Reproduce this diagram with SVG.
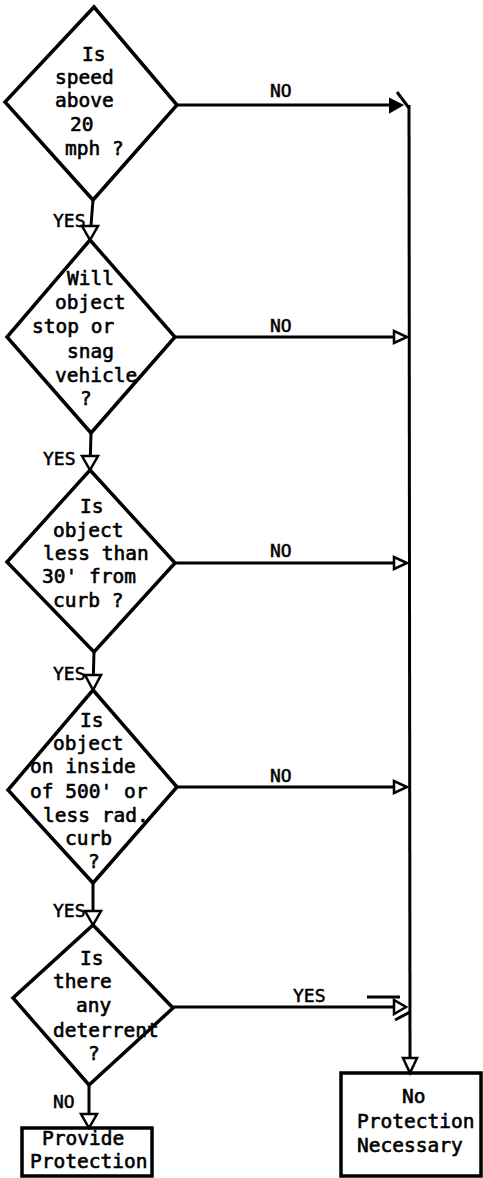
<svg xmlns="http://www.w3.org/2000/svg" width="483" height="1178" viewBox="0 0 483 1178">
<style>
.shape{fill:none;stroke:#000;stroke-width:3.5;stroke-linejoin:miter}
.ln{fill:none;stroke:#000;stroke-width:3}
.ah{fill:#fff;stroke:#000;stroke-width:2.5;stroke-linejoin:miter}
.t{font-family:"DejaVu Sans Mono","Liberation Mono",monospace;font-size:19.5px;fill:#000;stroke:#000;stroke-width:0.6}
.l{font-family:"DejaVu Sans Mono","Liberation Mono",monospace;font-size:18px;fill:#000;stroke:#000;stroke-width:0.5}
</style>
<rect width="483" height="1178" fill="#fff"/>
<g id="connectors">
  <line class="ln" x1="93" y1="200" x2="90" y2="238"/>
  <polygon class="ah" points="82,226 98,226 90,240"/>
  <text class="l" x="53" y="227">YES</text>
  <line class="ln" x1="91" y1="433" x2="90" y2="468"/>
  <polygon class="ah" points="82,456 98,456 90,470"/>
  <text class="l" x="43" y="465">YES</text>
  <line class="ln" x1="94" y1="652" x2="93" y2="688"/>
  <polygon class="ah" points="85,675 101,675 93,690"/>
  <text class="l" x="53" y="680">YES</text>
  <line class="ln" x1="93" y1="883" x2="93" y2="923"/>
  <polygon class="ah" points="85,911 101,911 93,925"/>
  <text class="l" x="53" y="917">YES</text>
  <line class="ln" x1="89" y1="1085" x2="89" y2="1126"/>
  <polygon class="ah" points="81,1114 97,1114 89,1128"/>
  <text class="l" x="53" y="1108">NO</text>
  <line class="ln" x1="177" y1="105" x2="392" y2="105"/>
  <polygon points="390,99 390,112 402,105" fill="#000" stroke="#000" stroke-width="2"/>
  <line class="ln" x1="397" y1="92" x2="409" y2="108"/>
  <text class="l" x="270" y="97">NO</text>
  <line class="ln" x1="175" y1="337" x2="394" y2="337"/>
  <polygon class="ah" points="394,331 394,343 407,337"/>
  <text class="l" x="270" y="332">NO</text>
  <line class="ln" x1="175" y1="563" x2="394" y2="563"/>
  <polygon class="ah" points="394,557 394,569 407,563"/>
  <text class="l" x="270" y="557">NO</text>
  <line class="ln" x1="177" y1="787" x2="394" y2="787"/>
  <polygon class="ah" points="394,781 394,793 407,787"/>
  <text class="l" x="270" y="782">NO</text>
  <line class="ln" x1="173" y1="1007" x2="394" y2="1007"/>
  <polygon class="ah" points="394,1000 394,1014 406,1007"/>
  <line class="ln" x1="367" y1="997" x2="400" y2="997"/>
  <line class="ln" x1="395" y1="1020" x2="410" y2="1012"/>
  <text class="l" x="293" y="1002">YES</text>
  <line class="ln" x1="409" y1="105" x2="410" y2="1058"/>
  <polygon class="ah" points="403,1058 417,1058 410,1073"/>
</g>
<g id="d1">
  <polygon class="shape" points="94,7 177,105 93,200 5,102"/>
  <text class="t" x="82" y="61">Is</text>
  <text class="t" x="55" y="84">speed</text>
  <text class="t" x="55" y="107">above</text>
  <text class="t" x="70" y="131">20</text>
  <text class="t" x="65" y="155">mph ?</text>
</g>
<g id="d2">
  <polygon class="shape" points="90,240 175,337 91,433 7,337"/>
  <text class="t" x="67" y="285">Will</text>
  <text class="t" x="55" y="309">object</text>
  <text class="t" x="32" y="333">stop or</text>
  <text class="t" x="67" y="358">snag</text>
  <text class="t" x="55" y="382">vehicle</text>
  <text class="t" x="80" y="405">?</text>
</g>
<g id="d3">
  <polygon class="shape" points="90,470 175,563 94,652 7,562"/>
  <text class="t" x="80" y="513">Is</text>
  <text class="t" x="53" y="537">object</text>
  <text class="t" x="43" y="560">less than</text>
  <text class="t" x="42" y="583">30' from</text>
  <text class="t" x="53" y="607">curb ?</text>
</g>
<g id="d4">
  <polygon class="shape" points="93,690 177,787 93,883 8,790"/>
  <text class="t" x="80" y="727">Is</text>
  <text class="t" x="53" y="750">object</text>
  <text class="t" x="30" y="773">on inside</text>
  <text class="t" x="30" y="798">of 500' or</text>
  <text class="t" x="43" y="822">less rad.</text>
  <text class="t" x="65" y="845">curb</text>
  <text class="t" x="88" y="868">?</text>
</g>
<g id="d5">
  <polygon class="shape" points="93,925 173,1008 89,1085 13,998"/>
  <text class="t" x="80" y="965">Is</text>
  <text class="t" x="53" y="988">there</text>
  <text class="t" x="76" y="1012">any</text>
  <text class="t" x="53" y="1037">deterrent</text>
  <text class="t" x="88" y="1060">?</text>
</g>
<g id="provide">
  <rect class="shape" x="22" y="1128" width="130" height="48"/>
  <text class="t" x="42" y="1145">Provide</text>
  <text class="t" x="30" y="1168">Protection</text>
</g>
<g id="noprot">
  <rect class="shape" x="341" y="1073" width="140" height="103"/>
  <text class="t" x="402" y="1103">No</text>
  <text class="t" x="357" y="1128">Protection</text>
  <text class="t" x="357" y="1152">Necessary</text>
</g>
</svg>
